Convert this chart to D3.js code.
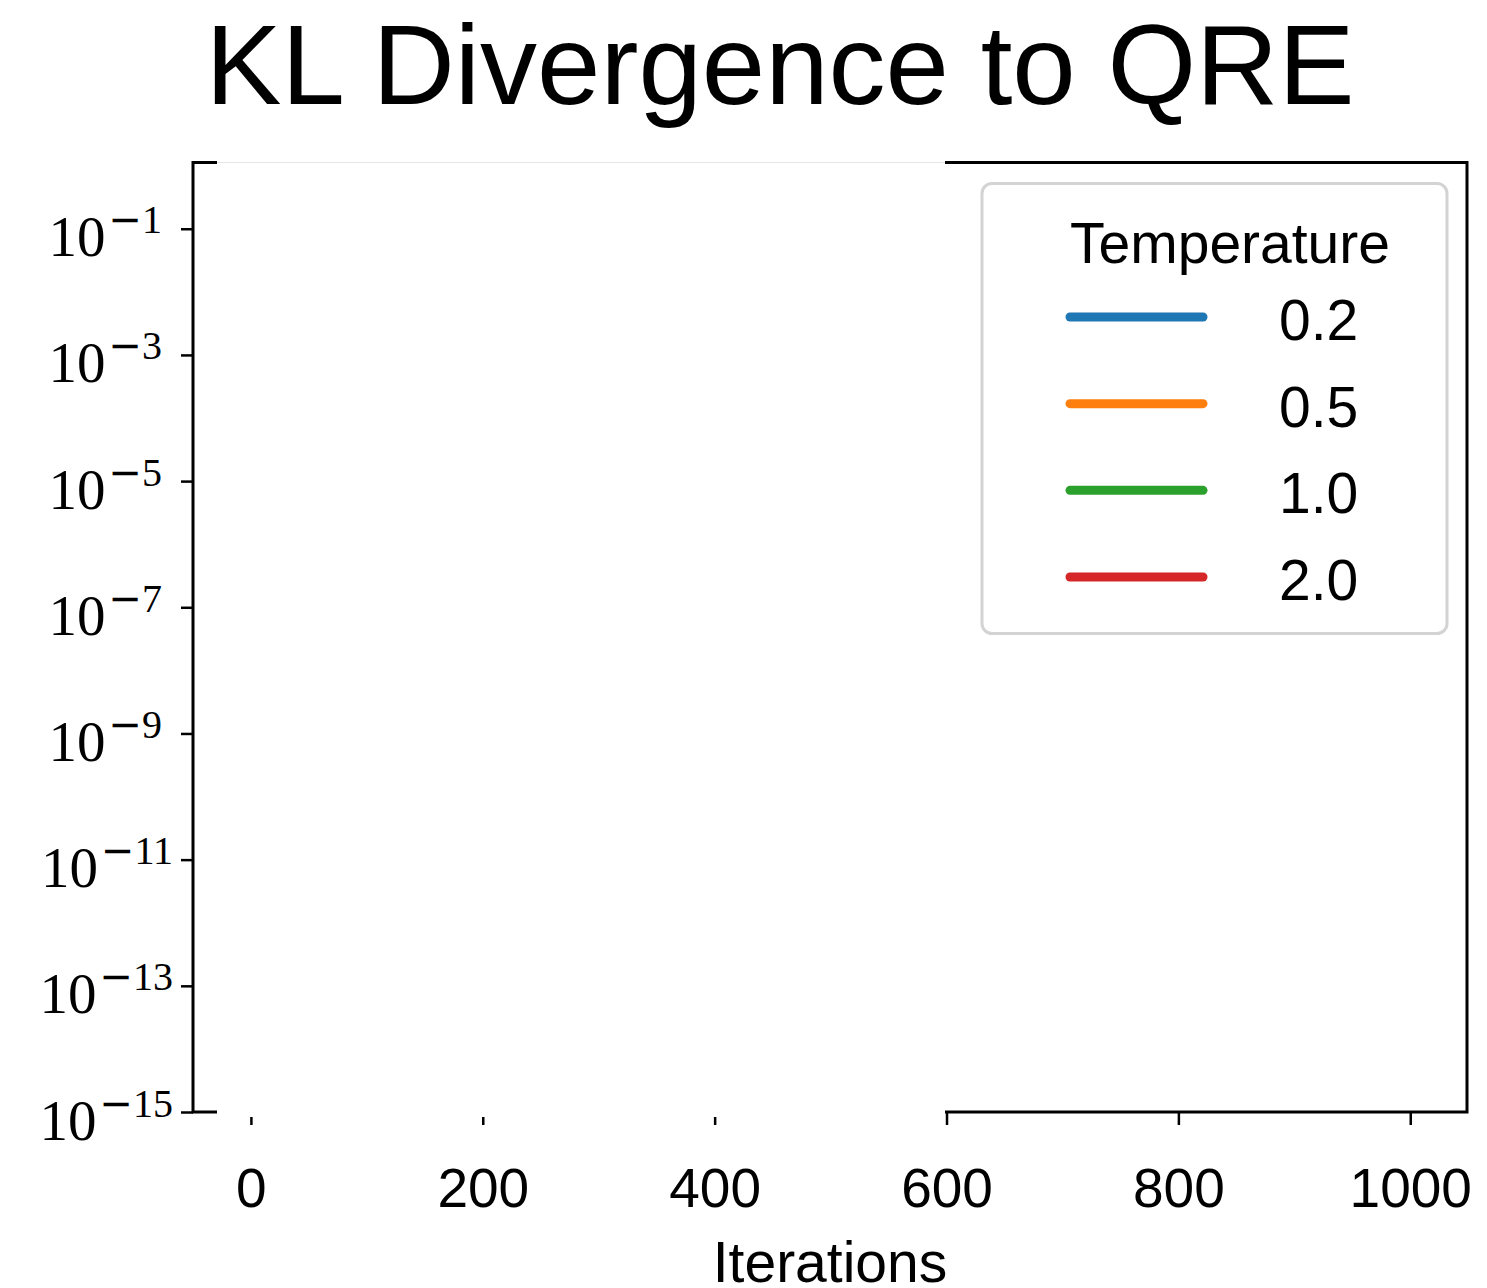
<!DOCTYPE html>
<html><head><meta charset="utf-8">
<script src="https://cdn.jsdelivr.net/npm/d3@7"></script>
<style>body{margin:0;background:#fff}svg{display:block}</style>
</head><body>
<script>
// ---- data ----
const titleText = "KL Divergence to QRE";
const xLabel = "Iterations";
const legendTitle = "Temperature";
const temperatures = ["0.2", "0.5", "1.0", "2.0"];
const seriesColors = ["#1f77b4", "#ff7f0e", "#2ca02c", "#d62728"];
// No line is visible in the reference plot area; series values are empty.
const series02 = [];
const series05 = [];
const series10 = [];
const series20 = [];
const xTicks = [0, 200, 400, 600, 800, 1000];
const yTickExponents = [-1, -3, -5, -7, -9, -11, -13, -15];
const xDomain = [-49.95, 1048.95];
const yDomain = [1e-15, Math.pow(10, 0.05)];

const W = 1487, H = 1288;
const L = 193, R = 1467, T = 162.5, B = 1112;
const svg = d3.select("body").append("svg").attr("width", W).attr("height", H);

const x = d3.scaleLinear().domain(xDomain).range([L, R]);
const y = d3.scaleLog().domain(yDomain).range([B, T]);

const allSeries = [series02, series05, series10, series20];
const line = d3.line().x(d => x(d[0])).y(d => y(d[1]));
const plot = svg.append("g");
allSeries.forEach((s, i) => {
  plot.append("path").datum(s).attr("d", line).attr("fill", "none")
    .attr("stroke", seriesColors[i]).attr("stroke-width", 4);
});

const sans = "Liberation Sans, Arial, sans-serif";

// x axis ticks
const xAxis = svg.append("g").attr("transform", `translate(0,${B})`)
  .call(d3.axisBottom(x).tickValues(xTicks).tickSize(13).tickSizeOuter(0).tickFormat(d3.format("d")));
xAxis.select(".domain").remove();
xAxis.selectAll(".tick line").attr("stroke", "#000").attr("stroke-width", 2.5);
xAxis.selectAll(".tick text").attr("y", 95).attr("dy", 0)
  .attr("font-family", sans).attr("font-size", 55).attr("fill", "#000");

// y axis ticks
const yAxis = svg.append("g").attr("transform", `translate(${L},0)`)
  .call(d3.axisLeft(y).tickValues(yTickExponents.map(e => Math.pow(10, e))).tickSize(12).tickSizeOuter(0).tickFormat(""));
yAxis.select(".domain").remove();
yAxis.selectAll(".tick line").attr("stroke", "#000").attr("stroke-width", 2.5);
yAxis.selectAll(".tick").each(function(d, i) {
  const e = yTickExponents[i];
  const t = d3.select(this).append("text")
    .attr("x", String(Math.abs(e)).length > 1 ? -20 : -31)
    .attr("y", 27)
    .attr("text-anchor", "end").attr("fill", "#000")
    .attr("font-family", "Liberation Serif, Times New Roman, serif").attr("font-size", 57);
  t.append("tspan").text("10");
  t.append("tspan").attr("dx", 3).attr("dy", -23).attr("font-size", 40)
    .attr("font-family", "DejaVu Sans, sans-serif").text("\u2212");
  t.append("tspan").attr("font-size", 40).text(Math.abs(e));
});

// spines
const sp = svg.append("g").attr("stroke", "#000").attr("stroke-width", 3).attr("fill", "none");
sp.append("rect").attr("x", L).attr("y", T).attr("width", R - L).attr("height", B - T);

// white cover panel (as in reference)
svg.append("rect").attr("x", 217).attr("y", T - 1.5).attr("width", 945 - 217).attr("height", 1117 - T + 1.5)
  .attr("fill", "#fff");
svg.append("line").attr("x1", 217).attr("x2", 945).attr("y1", 162.5).attr("y2", 162.5)
  .attr("stroke", "#e6e6e6").attr("stroke-width", 1);

// title
svg.append("text").attr("x", 780).attr("y", 104).attr("text-anchor", "middle")
  .attr("font-family", sans).attr("font-size", 114).attr("fill", "#000")
  .text(titleText);

// x label
svg.append("text").attr("x", (L + R) / 2).attr("y", 1282).attr("text-anchor", "middle")
  .attr("font-family", sans).attr("font-size", 57).attr("fill", "#000")
  .text(xLabel);

// legend
const lg = svg.append("g");
lg.append("rect").attr("x", 982).attr("y", 183.5).attr("width", 465).attr("height", 450).attr("rx", 10)
  .attr("fill", "#fff").attr("stroke", "#d3d3d3").attr("stroke-width", 3);
lg.append("text").attr("x", 1230).attr("y", 263).attr("text-anchor", "middle")
  .attr("font-family", sans).attr("font-size", 57).attr("fill", "#000")
  .text(legendTitle);
const ly = d3.scalePoint().domain(temperatures).range([317, 577]);
temperatures.forEach((t, i) => {
  lg.append("line").attr("x1", 1070).attr("x2", 1203).attr("y1", ly(t)).attr("y2", ly(t))
    .attr("stroke", seriesColors[i]).attr("stroke-width", 9).attr("stroke-linecap", "round");
  lg.append("text").attr("x", 1279).attr("y", ly(t) + 23)
    .attr("font-family", sans).attr("font-size", 57).attr("fill", "#000")
    .text(t);
});
</script>
</body></html>
